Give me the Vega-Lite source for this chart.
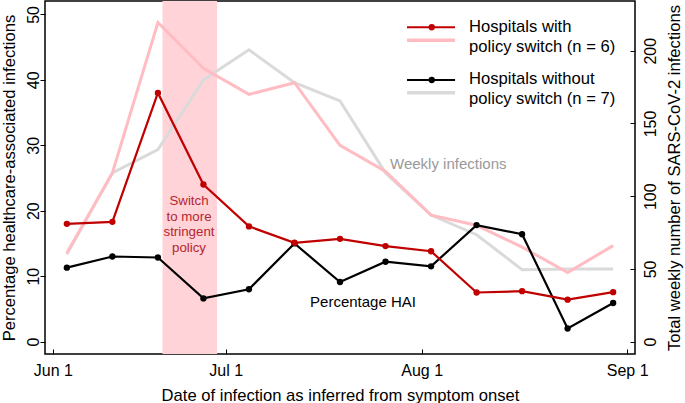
{
  "$schema": "https://vega.github.io/schema/vega-lite/v6.json",
  "width": 590,
  "height": 353,
  "autosize": {"type": "none"},
  "padding": {"left": 45, "top": 1, "right": 50, "bottom": 49},
  "config": {
    "font": "Liberation Sans",
    "view": {"stroke": "#000000", "strokeWidth": 1.5},
    "axis": {
      "grid": false,
      "domain": false,
      "tickColor": "#000000",
      "tickWidth": 1,
      "labelColor": "#000000",
      "titleColor": "#000000",
      "labelFontSize": 16,
      "titleFontSize": 16.6,
      "titleFontWeight": "normal"
    }
  },
  "datasets": {
    "hospitals": [
      {"week": 1, "group": "without", "pct": 11.3, "inf": 60},
      {"week": 2, "group": "without", "pct": 13.0, "inf": 116},
      {"week": 3, "group": "without", "pct": 12.85, "inf": 132},
      {"week": 4, "group": "without", "pct": 6.6, "inf": 180},
      {"week": 5, "group": "without", "pct": 8.0, "inf": 200.6},
      {"week": 6, "group": "without", "pct": 15.0, "inf": 178},
      {"week": 7, "group": "without", "pct": 9.1, "inf": 165.5},
      {"week": 8, "group": "without", "pct": 12.2, "inf": 116},
      {"week": 9, "group": "without", "pct": 11.5, "inf": 87},
      {"week": 10, "group": "without", "pct": 17.8, "inf": 73.5},
      {"week": 11, "group": "without", "pct": 16.4, "inf": 49.5},
      {"week": 12, "group": "without", "pct": 2.0, "inf": 50},
      {"week": 13, "group": "without", "pct": 5.9, "inf": 50},
      {"week": 1, "group": "with", "pct": 18.0, "inf": 61},
      {"week": 2, "group": "with", "pct": 18.3, "inf": 116},
      {"week": 3, "group": "with", "pct": 38.0, "inf": 219.4},
      {"week": 4, "group": "with", "pct": 24.0, "inf": 188},
      {"week": 5, "group": "with", "pct": 17.6, "inf": 170},
      {"week": 6, "group": "with", "pct": 15.1, "inf": 178},
      {"week": 7, "group": "with", "pct": 15.7, "inf": 135},
      {"week": 8, "group": "with", "pct": 14.6, "inf": 117},
      {"week": 9, "group": "with", "pct": 13.8, "inf": 87},
      {"week": 10, "group": "with", "pct": 7.5, "inf": 80},
      {"week": 11, "group": "with", "pct": 7.7, "inf": 65},
      {"week": 12, "group": "with", "pct": 6.4, "inf": 47.5},
      {"week": 13, "group": "with", "pct": 7.55, "inf": 66}
    ],
    "one": [{"note": "annotation"}]
  },
  "layer": [
    {
      "layer": [
        {
          "data": {"name": "one"},
          "mark": {"type": "rect", "color": "#ffd3d8"},
          "encoding": {
            "x": {"datum": 3.1, "type": "quantitative"},
            "x2": {"datum": 4.3},
            "y": {"datum": -8.5, "type": "quantitative"},
            "y2": {"datum": 234.2}
          }
        },
        {
          "data": {"name": "hospitals"},
          "mark": {"type": "line", "strokeWidth": 3},
          "encoding": {
            "x": {
              "field": "week",
              "type": "quantitative",
              "scale": {"domain": [0.52, 13.48], "nice": false, "zero": false},
              "axis": {
                "values": [0.693, 4.49, 8.794, 13.307],
                "labelExpr": "datum.value < 2 ? 'Jun 1' : datum.value < 6 ? 'Jul 1' : datum.value < 10 ? 'Aug 1' : 'Sep 1'",
                "title": "Date of infection as inferred from symptom onset",
                "tickSize": -5,
                "labelPadding": 13,
                "titlePadding": 9,
                "labelFlush": false
              }
            },
            "y": {
              "field": "inf",
              "type": "quantitative",
              "scale": {"domain": [-8.5, 234.2], "nice": false, "zero": false},
              "axis": {
                "orient": "right",
                "values": [0, 50, 100, 150, 200],
                "title": "Total weekly number of SARS-CoV-2 infections",
                "titleAngle": -90,
                "titleBaseline": "top",
                "titlePadding": 8,
                "labelAngle": -90,
                "labelAlign": "center",
                "labelBaseline": "top",
                "tickSize": -5,
                "labelPadding": 12
              }
            },
            "color": {
              "field": "group",
              "type": "nominal",
              "scale": {"domain": ["with", "without"], "range": ["#ffbcc2", "#dadada"]},
              "legend": null
            }
          }
        }
      ]
    },
    {
      "layer": [
        {
          "data": {"name": "hospitals"},
          "mark": {"type": "line", "strokeWidth": 2.2},
          "encoding": {
            "x": {"field": "week", "type": "quantitative"},
            "y": {
              "field": "pct",
              "type": "quantitative",
              "scale": {"domain": [-1.9, 52.05], "nice": false, "zero": false},
              "axis": {
                "orient": "left",
                "values": [0, 10, 20, 30, 40, 50],
                "title": "Percentage healthcare-associated infections",
                "titlePadding": 8,
                "labelAngle": -90,
                "labelAlign": "center",
                "labelBaseline": "alphabetic",
                "tickSize": 5,
                "labelPadding": 1.5
              }
            },
            "color": {
              "field": "group",
              "type": "nominal",
              "scale": {"domain": ["with", "without"], "range": ["#c00000", "#000000"]},
              "legend": null
            }
          }
        },
        {
          "data": {"name": "hospitals"},
          "mark": {"type": "point", "filled": true, "opacity": 1, "size": 40},
          "encoding": {
            "x": {"field": "week", "type": "quantitative"},
            "y": {"field": "pct", "type": "quantitative"},
            "color": {
              "field": "group",
              "type": "nominal",
              "scale": {"domain": ["with", "without"], "range": ["#c00000", "#000000"]},
              "legend": null
            }
          }
        },
        {
          "data": {"name": "one"},
          "mark": {"type": "text", "text": ["Switch", "to more", "stringent", "policy"], "align": "center", "baseline": "middle", "lineHeight": 15.7, "fontSize": 13.3, "color": "#b5262e"},
          "encoding": {"x": {"datum": 3.683, "type": "quantitative"}, "y": {"datum": 21.49, "type": "quantitative"}}
        },
        {
          "data": {"name": "one"},
          "mark": {"type": "text", "text": "Weekly infections", "align": "left", "baseline": "middle", "fontSize": 15, "color": "#999999"},
          "encoding": {"x": {"datum": 8.099, "type": "quantitative"}, "y": {"datum": 27.1, "type": "quantitative"}}
        },
        {
          "data": {"name": "one"},
          "mark": {"type": "text", "text": "Percentage HAI", "align": "left", "baseline": "middle", "fontSize": 15, "color": "#000000"},
          "encoding": {"x": {"datum": 6.342, "type": "quantitative"}, "y": {"datum": 6.1, "type": "quantitative"}}
        },
        {
          "data": {"name": "one"},
          "mark": {"type": "rule", "strokeWidth": 2.2, "color": "#c00000"},
          "encoding": {"x": {"datum": 8.472, "type": "quantitative"}, "x2": {"datum": 9.527}, "y": {"datum": 48.04, "type": "quantitative"}}
        },
        {
          "data": {"name": "one"},
          "mark": {"type": "rule", "strokeWidth": 3.5, "color": "#ffbcc2"},
          "encoding": {"x": {"datum": 8.472, "type": "quantitative"}, "x2": {"datum": 9.527}, "y": {"datum": 46.05, "type": "quantitative"}}
        },
        {
          "data": {"name": "one"},
          "mark": {"type": "point", "filled": true, "opacity": 1, "size": 40, "color": "#c00000"},
          "encoding": {"x": {"datum": 9.015, "type": "quantitative"}, "y": {"datum": 48.04, "type": "quantitative"}}
        },
        {
          "data": {"name": "one"},
          "mark": {"type": "rule", "strokeWidth": 2.2, "color": "#000000"},
          "encoding": {"x": {"datum": 8.472, "type": "quantitative"}, "x2": {"datum": 9.527}, "y": {"datum": 39.98, "type": "quantitative"}}
        },
        {
          "data": {"name": "one"},
          "mark": {"type": "rule", "strokeWidth": 3.5, "color": "#dadada"},
          "encoding": {"x": {"datum": 8.472, "type": "quantitative"}, "x2": {"datum": 9.527}, "y": {"datum": 38.04, "type": "quantitative"}}
        },
        {
          "data": {"name": "one"},
          "mark": {"type": "point", "filled": true, "opacity": 1, "size": 40, "color": "#000000"},
          "encoding": {"x": {"datum": 9.015, "type": "quantitative"}, "y": {"datum": 39.98, "type": "quantitative"}}
        },
        {
          "data": {"name": "one"},
          "mark": {"type": "text", "text": ["Hospitals with", "policy switch (n = 6)"], "align": "left", "baseline": "middle", "lineHeight": 20, "fontSize": 16.6, "color": "#000000"},
          "encoding": {"x": {"datum": 9.835, "type": "quantitative"}, "y": {"datum": 48.13, "type": "quantitative"}}
        },
        {
          "data": {"name": "one"},
          "mark": {"type": "text", "text": ["Hospitals without", "policy switch (n = 7)"], "align": "left", "baseline": "middle", "lineHeight": 20, "fontSize": 16.6, "color": "#000000"},
          "encoding": {"x": {"datum": 9.835, "type": "quantitative"}, "y": {"datum": 40.13, "type": "quantitative"}}
        }
      ]
    }
  ],
  "resolve": {"scale": {"y": "independent", "color": "independent"}}
}
